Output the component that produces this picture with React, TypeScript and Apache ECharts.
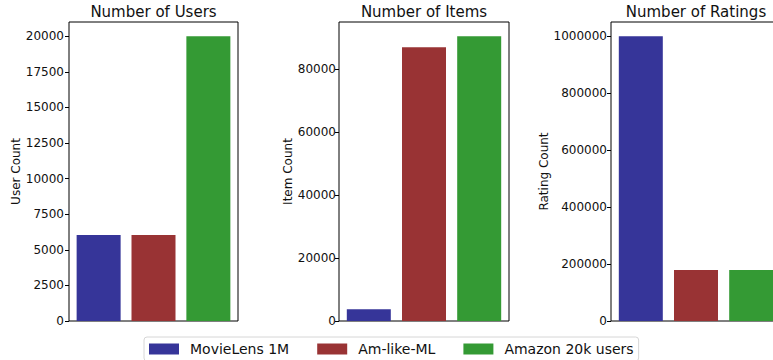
import React, { useEffect, useRef } from "react";
import * as echarts from "echarts";

// Dataset names (bar colours follow this order)
const datasets = ["MovieLens 1M", "Am-like-ML", "Amazon 20k users"];
const colors = ["#363599", "#993334", "#349a34"];

// Per-panel values, one entry per dataset
const userCounts = [6040, 6040, 20000];
const itemCounts = [3706, 87000, 90500];
const ratingCounts = [1000209, 179000, 179000];

// Tick labels on each y axis
const userTicks = [0, 2500, 5000, 7500, 10000, 12500, 15000, 17500, 20000];
const itemTicks = [0, 20000, 40000, 60000, 80000];
const ratingTicks = [0, 200000, 400000, 600000, 800000, 1000000];

const panelTitles = ["Number of Users", "Number of Items", "Number of Ratings"];
const axisNames = ["User Count", "Item Count", "Rating Count"];

const FONT = "DejaVu Sans";

export default function App() {
  const ref = useRef<HTMLDivElement>(null);

  useEffect(() => {
    if (!ref.current) return;
    const chart = echarts.init(ref.current, undefined, { renderer: "svg" });

    const panels = [
      { values: userCounts, ticks: userTicks, max: Math.max(...userCounts) * 1.05, left: 69, width: 169, margin: 5, nameGap: 40 },
      { values: itemCounts, ticks: itemTicks, max: Math.max(...itemCounts) * 1.05, left: 339, width: 170, margin: 3, nameGap: 39 },
      { values: ratingCounts, ticks: ratingTicks, max: Math.max(...ratingCounts) * 1.05, left: 611, width: 170, margin: 4, nameGap: 56 },
    ];

    const grid = panels.map((p) => ({
      left: p.left,
      top: 22,
      width: p.width,
      height: 299,
      show: true,
      borderColor: "#000",
      borderWidth: 1,
      backgroundColor: "transparent",
    }));

    // Datasets sit at x = 0, 1, 2 on a numeric axis
    const xAxis = panels.map((_, i) => ({
      type: "value",
      gridIndex: i,
      min: -0.54,
      max: 2.54,
      axisLine: { show: false, onZero: false },
      axisTick: { show: false },
      axisLabel: { show: false },
      splitLine: { show: false },
    }));

    const yAxis = panels.map((p, i) => ({
      type: "value",
      gridIndex: i,
      min: 0,
      max: p.max,
      name: axisNames[i],
      nameLocation: "middle",
      nameRotate: 90,
      nameGap: p.nameGap,
      nameTextStyle: { fontFamily: FONT, fontSize: 12, color: "#111" },
      axisLine: { show: false, onZero: false },
      axisTick: { show: true, length: 4, lineStyle: { color: "#000", width: 1 }, customValues: p.ticks },
      axisLabel: {
        fontFamily: FONT,
        fontSize: 12,
        color: "#111",
        margin: p.margin,
        customValues: p.ticks,
        formatter: (v: number) => String(v),
      },
      splitLine: { show: false },
    }));

    const series: any[] = [];
    panels.forEach((p, gi) => {
      datasets.forEach((name, di) => {
        series.push({
          type: "bar",
          name,
          xAxisIndex: gi,
          yAxisIndex: gi,
          barWidth: 44,
          barGap: "-100%",
          itemStyle: { color: colors[di] },
          data: [[di, p.values[di]]],
        });
      });
    });

    chart.setOption({
      animation: false,
      title: panels.map((p, i) => ({
        text: panelTitles[i],
        left: p.left + p.width / 2,
        top: 4,
        textAlign: "center",
        padding: 0,
        textStyle: { fontFamily: FONT, fontSize: 15, fontWeight: "normal", color: "#111" },
      })),
      legend: {
        data: datasets,
        left: 144,
        top: 337,
        padding: [5, 5, 5, 5],
        itemWidth: 30,
        itemHeight: 11,
        itemGap: 28,
        icon: "rect",
        borderColor: "#d6d6d6",
        borderWidth: 1,
        borderRadius: 3,
        textStyle: { fontFamily: FONT, fontSize: 14, color: "#111", padding: [0, 0, 0, 6] },
      },
      grid,
      xAxis,
      yAxis,
      series,
    });

    return () => chart.dispose();
  }, []);

  return (
    <div style={{ position: "absolute", left: 0, top: 0, width: 773, height: 360, overflow: "hidden" }}>
      <div ref={ref} style={{ width: 800, height: 360 }} />
    </div>
  );
}
